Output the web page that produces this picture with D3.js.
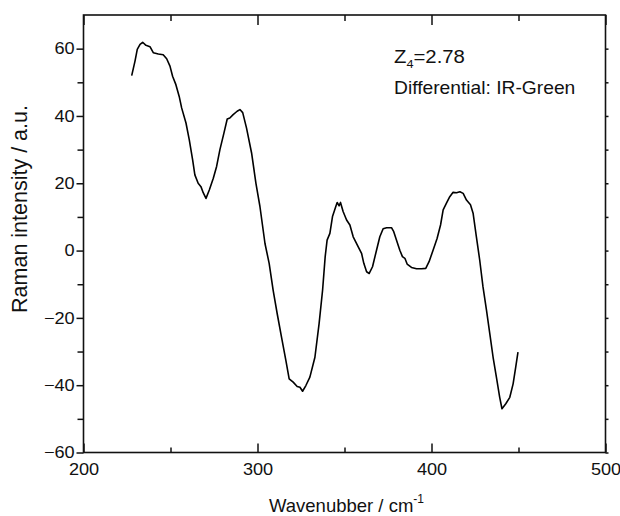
<!DOCTYPE html>
<html>
<head>
<meta charset="utf-8">
<script src="https://cdn.jsdelivr.net/npm/d3@7"></script>
<style>
  body { margin: 0; background: #fff; }
  svg text { font-family: Arial, 'Liberation Sans', sans-serif; fill: #111; }
</style>
</head>
<body>
<svg id="chart" width="620" height="516"></svg>
<script>
// Raman spectrum
const wavenumber = [
  227.7, 229.6, 230.9, 232.5, 234.0, 235.9, 238.2, 240.1, 243.0, 245.8, 247.8, 249.7,
  251.2, 253.1, 255.0, 256.4, 258.9, 260.8, 262.7, 264.0, 265.9, 267.5, 268.8, 270.4,
  272.3, 274.6, 276.5, 278.4, 280.7, 282.6, 284.1, 286.0, 288.3, 289.9, 291.5, 293.7,
  296.6, 299.1, 301.4, 304.3, 306.7, 309.0, 311.3, 313.8, 316.3, 318.2, 320.5, 322.8,
  324.4, 325.9, 327.8, 330.1, 333.0, 335.4, 337.4, 338.9, 340.0, 341.6, 343.1, 345.0,
  345.8, 346.9, 347.7, 349.2, 351.2, 353.1, 355.0, 357.9, 359.8, 361.1, 362.7, 364.2,
  366.1, 368.4, 370.3, 372.2, 374.2, 377.0, 378.3, 379.9, 381.8, 383.3, 384.7, 386.0,
  388.5, 391.4, 394.3, 396.7, 398.6, 400.9, 403.2, 405.2, 406.7, 408.6, 410.5, 412.4,
  414.4, 416.3, 418.2, 420.1, 422.4, 423.9, 425.8, 427.7, 429.6, 431.6, 433.5, 435.4,
  437.3, 439.2, 440.5, 442.7, 445.0, 446.9, 448.4, 449.7
];
const intensity = [
  52.0, 56.3, 59.8, 61.3, 61.9, 61.0, 60.6, 58.8, 58.4, 58.2, 57.0, 54.8,
  51.8, 49.3, 45.8, 42.4, 37.9, 32.9, 27.0, 22.5, 20.0, 19.0, 17.2, 15.5,
  18.0, 21.5, 25.0, 30.0, 34.9, 39.1, 39.4, 40.4, 41.4, 41.9, 41.0, 36.4,
  29.0, 20.0, 13.1, 2.1, -3.8, -11.8, -18.7, -25.7, -32.6, -38.1, -39.1, -40.4,
  -40.6, -41.8, -40.1, -37.6, -31.7, -21.7, -11.8, -1.8, 3.1, 5.1, 10.1, 13.1,
  14.3, 13.3, 14.3, 11.6, 9.1, 7.6, 4.1, 1.1, -0.8, -3.8, -6.3, -6.8,
  -4.8, 0.1, 4.1, 6.5, 6.8, 6.8, 5.6, 3.1, 0.1, -1.8, -2.3, -4.0,
  -5.0, -5.4, -5.4, -5.3, -3.3, 0.1, 3.6, 7.6, 12.1, 14.1, 16.0, 17.3,
  17.2, 17.5, 17.0, 15.0, 13.6, 11.1, 4.1, -2.8, -10.8, -17.7, -24.7, -31.7,
  -37.6, -43.6, -47.0, -45.5, -43.6, -39.6, -34.6, -30.2
];

const xMajor = [200, 300, 400, 500];
const xMinor = [250, 350, 450];
const yMajor = [-60, -40, -20, 0, 20, 40, 60];
const yMinor = [-50, -30, -10, 10, 30, 50];

const svg = d3.select('#chart');
const padding = { top: 15, left: 83.5, right: 14.5, bottom: 63.5 };
const width = 620 - padding.left - padding.right;
const height = 516 - padding.top - padding.bottom;

// text in the picture is a little wider than plain Arial
const stretch = 'scale(1.1,1)';

const x = d3.scaleLinear().domain([200, 500]).range([0, width]);
const y = d3.scaleLinear().domain([-60, 70]).range([height, 0]);

const canvas = svg.append('g').attr('transform', `translate(${padding.left},${padding.top})`);

// Axes: x ticks point inwards, y ticks outwards
function drawAxes() {
  const noLabel = () => '';

  canvas.append('g')
    .attr('class', 'axis')
    .attr('transform', `translate(0,${height})`)
    .call(d3.axisBottom(x).tickValues(xMajor).tickSize(-9).tickPadding(11).tickFormat(d3.format('d')));
  canvas.append('g')
    .attr('transform', `translate(0,${height})`)
    .call(d3.axisBottom(x).tickValues(xMinor).tickSize(-5).tickFormat(noLabel));

  canvas.append('g')
    .call(d3.axisTop(x).tickValues(xMajor).tickSize(-10).tickFormat(noLabel));
  canvas.append('g')
    .call(d3.axisTop(x).tickValues(xMinor).tickSize(-6).tickFormat(noLabel));

  canvas.append('g')
    .attr('class', 'axis')
    .call(d3.axisLeft(y).tickValues(yMajor).tickSize(7).tickPadding(1).tickFormat(d3.format('d')));
  canvas.append('g')
    .call(d3.axisLeft(y).tickValues(yMinor).tickSize(6).tickFormat(noLabel));

  canvas.append('g')
    .attr('transform', `translate(${width},0)`)
    .call(d3.axisRight(y).tickValues(yMajor.concat(yMinor)).tickSize(3).tickFormat(noLabel));

  canvas.selectAll('.domain').remove();
  canvas.selectAll('.tick line').attr('stroke', '#111').attr('stroke-width', 1.5);
  canvas.selectAll('.axis text')
    .attr('font-size', 16.5)
    .attr('font-family', 'Arial, "Liberation Sans", sans-serif')
    .attr('fill', '#111')
    .attr('transform', stretch);

  // frame
  canvas.append('rect')
    .attr('width', width)
    .attr('height', height)
    .attr('fill', 'none')
    .attr('stroke', '#111')
    .attr('stroke-width', 1.6);
}

function drawCurve() {
  const points = wavenumber.map((w, i) => [w, intensity[i]]);
  canvas.append('path')
    .datum(points)
    .attr('fill', 'none')
    .attr('stroke', '#000')
    .attr('stroke-width', 1.6)
    .attr('stroke-linejoin', 'round')
    .attr('d', d3.line().x(d => x(d[0])).y(d => y(d[1])));
}

function drawLabels() {
  // x title with superscript
  const xt = svg.append('text')
    .attr('x', padding.left + width / 2 + 2)
    .attr('y', 512)
    .attr('text-anchor', 'middle')
    .attr('font-size', 18.5);
  xt.append('tspan').text('Wavenubber / cm');
  xt.append('tspan').attr('font-size', 12).attr('dy', -9).text('-1');

  svg.append('text')
    .attr('transform', `translate(27,209) rotate(-90)`)
    .attr('text-anchor', 'middle')
    .attr('font-size', 21.5)
    .text('Raman intensity / a.u.');

  const note = svg.append('g').attr('transform', `translate(394,0) ${stretch}`);
  const z = note.append('text').attr('y', 63).attr('font-size', 18.5);
  z.append('tspan').text('Z');
  z.append('tspan').attr('font-size', 11.5).attr('dy', 5).text('4');
  z.append('tspan').attr('dy', -5).text('=2.78');

  note.append('text')
    .attr('y', 94)
    .attr('font-size', 17.5)
    .text('Differential: IR-Green');
}

drawAxes();
drawCurve();
drawLabels();
</script>
</body>
</html>
